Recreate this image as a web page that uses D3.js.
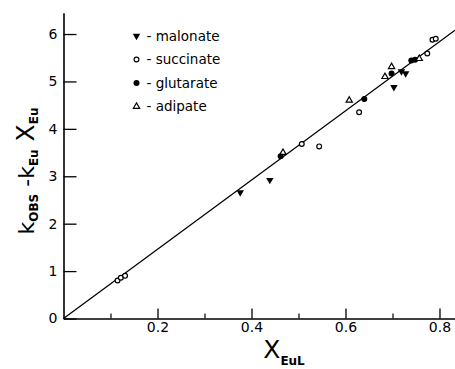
<!DOCTYPE html>
<html>
<head>
<meta charset="utf-8">
<script src="https://cdn.jsdelivr.net/npm/d3@7"></script>
<style>
  body { margin: 0; background: #fff; }
  text { font-family: "DejaVu Sans", "Liberation Sans", sans-serif; fill: #000; }
</style>
</head>
<body>
<div class="chart"></div>
<script>
// data
var malonateX = [0.376, 0.439, 0.703, 0.719, 0.728];
var malonateY = [2.66, 2.92, 4.88, 5.21, 5.17];

var succinateX = [0.115, 0.122, 0.131, 0.507, 0.544, 0.629, 0.774, 0.785, 0.792];
var succinateY = [0.80, 0.86, 0.90, 3.68, 3.63, 4.35, 5.59, 5.88, 5.90];

var glutarateX = [0.462, 0.640, 0.698, 0.740, 0.748];
var glutarateY = [3.42, 4.63, 5.17, 5.44, 5.46];

var adipateX = [0.467, 0.608, 0.684, 0.698, 0.757];
var adipateY = [3.50, 4.60, 5.10, 5.31, 5.48];

// fitted line
var fitX = [0, 0.833];
var fitY = [0, 6.08];

var xMajor = [0.2, 0.4, 0.6, 0.8];
var xMinor = [0.1, 0.3, 0.5, 0.7];
var yTicks = [0, 1, 2, 3, 4, 5, 6];

var legendNames = ["malonate", "succinate", "glutarate", "adipate"];

var svgWidth = 455;
var svgHeight = 369;

var svg = d3.select(".chart")
  .append("svg")
  .attr("width", svgWidth)
  .attr("height", svgHeight);

var x = d3.scaleLinear().domain([0, 0.833]).range([63.5, 455]);
var y = d3.scaleLinear().domain([0, 6.45]).range([318.5, 12.7]);

// axes
var xAxis = svg.append("g")
  .attr("transform", "translate(0," + y(0) + ")")
  .call(d3.axisBottom(x).tickValues(xMajor).tickSize(-10).tickSizeOuter(0).tickPadding(4)
    .tickFormat(d3.format(".1f")));
xAxis.select(".domain").attr("stroke-width", 1.6);
xAxis.selectAll(".tick line").attr("stroke-width", 1.3);
xAxis.selectAll("text").attr("font-size", 14);

var xMinorAxis = svg.append("g")
  .attr("transform", "translate(0," + y(0) + ")")
  .call(d3.axisBottom(x).tickValues(xMinor).tickSize(-5).tickFormat(""));
xMinorAxis.select(".domain").remove();
xMinorAxis.selectAll(".tick line").attr("stroke-width", 1.2);

var yAxis = svg.append("g")
  .attr("transform", "translate(" + x(0) + ",0)")
  .call(d3.axisLeft(y).tickValues(yTicks).tickSize(-13).tickSizeOuter(0).tickPadding(6)
    .tickFormat(d3.format("d")));
yAxis.select(".domain").attr("stroke-width", 1.6);
yAxis.selectAll(".tick line").attr("stroke-width", 1.3);
yAxis.selectAll("text").attr("font-size", 14);

// fit line
var fit = fitX.map(function(d, i) { return [d, fitY[i]]; });
svg.append("path")
  .datum(fit)
  .attr("fill", "none")
  .attr("stroke", "#000")
  .attr("stroke-width", 1.3)
  .attr("d", d3.line().x(function(d) { return x(d[0]); }).y(function(d) { return y(d[1]); }));

// markers
var triDown = d3.symbol().type(d3.symbolTriangle).size(24);
var triUp = d3.symbol().type(d3.symbolTriangle).size(17);

function drawMarker(g, type) {
  if (type === "malonate") {
    g.append("path").attr("d", triDown()).attr("transform", "rotate(180)").attr("fill", "#000");
  } else if (type === "succinate") {
    g.append("circle").attr("r", 2.4).attr("fill", "#fff").attr("stroke", "#000").attr("stroke-width", 1.2);
  } else if (type === "glutarate") {
    g.append("circle").attr("r", 3).attr("fill", "#000");
  } else {
    g.append("path").attr("d", triUp()).attr("fill", "#fff").attr("stroke", "#000").attr("stroke-width", 1.2);
  }
}

var series = [
  { name: "malonate", xs: malonateX, ys: malonateY },
  { name: "succinate", xs: succinateX, ys: succinateY },
  { name: "glutarate", xs: glutarateX, ys: glutarateY },
  { name: "adipate", xs: adipateX, ys: adipateY }
];

series.forEach(function(s) {
  s.xs.forEach(function(v, i) {
    var g = svg.append("g").attr("transform", "translate(" + x(v) + "," + y(s.ys[i]) + ")");
    drawMarker(g, s.name);
  });
});

// legend
var legend = svg.append("g");
legendNames.forEach(function(name, i) {
  var row = legend.append("g").attr("transform", "translate(136.5," + (36 + i * 23.5) + ")");
  drawMarker(row, name);
  row.append("text")
    .attr("x", 10)
    .attr("y", 4.5)
    .attr("font-size", 13.5)
    .text("- " + name);
});

// y label
var yLabel = svg.append("text")
  .attr("transform", "translate(34,171) rotate(-90)")
  .attr("text-anchor", "middle");
yLabel.append("tspan").attr("font-size", 22).text("k");
yLabel.append("tspan").attr("font-size", 12).attr("font-weight", "bold").attr("dy", 4).text("OBS");
yLabel.append("tspan").attr("font-size", 22).attr("dy", -4).text(" -k");
yLabel.append("tspan").attr("font-size", 12).attr("font-weight", "bold").attr("dy", 4).text("Eu");
yLabel.append("tspan").attr("font-size", 25).attr("dy", -4).text(" X");
yLabel.append("tspan").attr("font-size", 12).attr("font-weight", "bold").attr("dy", 4).text("Eu");

// x label
var xLabel = svg.append("text")
  .attr("x", 284)
  .attr("y", 358)
  .attr("text-anchor", "middle");
xLabel.append("tspan").attr("font-size", 25).text("X");
xLabel.append("tspan").attr("font-size", 12).attr("font-weight", "bold").attr("dy", 7).text("EuL");
</script>
</body>
</html>
